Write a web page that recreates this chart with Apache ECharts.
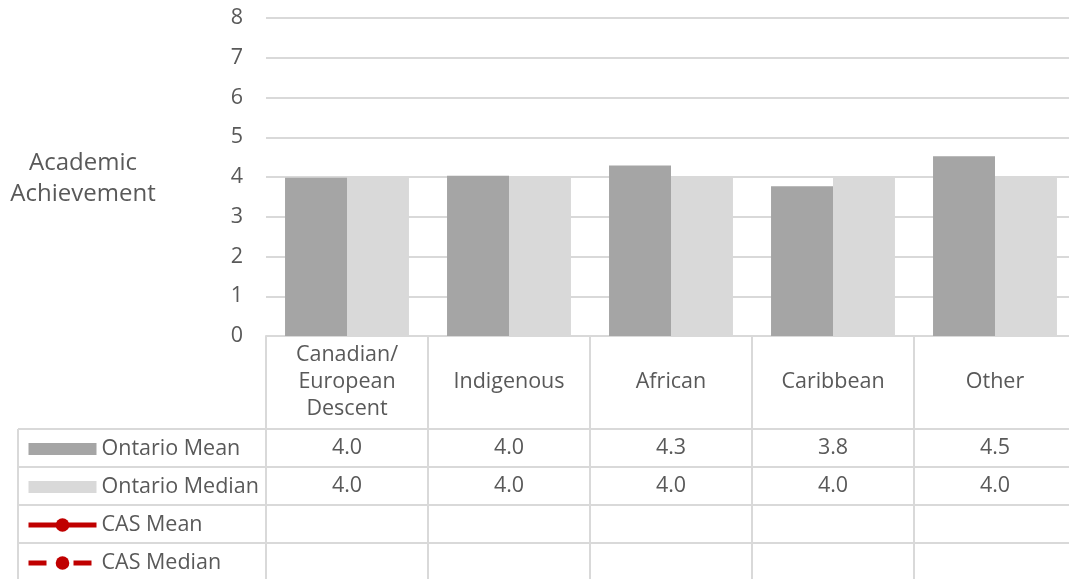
<!DOCTYPE html>
<html>
<head>
<meta charset="utf-8">
<script src="https://cdn.jsdelivr.net/npm/echarts@6/dist/echarts.min.js"></script>
<style>
  html, body { margin: 0; padding: 0; background: #fff; }
  #myEcharts { width: 1069px; height: 579px; }
</style>
</head>
<body>
<div id="myEcharts"></div>
<script>
// data
var categories = ['Canadian/\nEuropean\nDescent', 'Indigenous', 'African', 'Caribbean', 'Other'];
var ontarioMean = [3.98, 4.03, 4.29, 3.77, 4.52];
var ontarioMedian = [4.0, 4.0, 4.0, 4.0, 4.0];
var casMean = [null, null, null, null, null];
var casMedian = [null, null, null, null, null];
var yTicks = [0, 8, 1]; // min, max, interval

var textColor = '#595959';
var lineColor = '#d9d9d9';
var red = '#c00000';
var font = 'Open Sans';
var fs = 21.5;

var gridLeft = 266, gridTop = 18, gridW = 810, gridH = 318;
var bandW = gridW / categories.length;
var rowLines = [429, 467, 505, 543];

var myChart = echarts.init(document.getElementById('myEcharts'));

// table borders
var graphics = [];
rowLines.forEach(function (y) {
    graphics.push({ type: 'line', shape: { x1: 18, y1: y, x2: 1069, y2: y }, style: { stroke: lineColor, lineWidth: 2 } });
});
graphics.push({ type: 'line', shape: { x1: 18, y1: 429, x2: 18, y2: 579 }, style: { stroke: lineColor, lineWidth: 2 } });
for (var i = 0; i < categories.length; i++) {
    var x = gridLeft + i * bandW;
    graphics.push({ type: 'line', shape: { x1: x, y1: gridTop + gridH, x2: x, y2: 579 }, style: { stroke: lineColor, lineWidth: 2 } });
}
// y axis title
graphics.push({
    type: 'text', x: 83, y: 179,
    style: { text: 'Academic\nAchievement', fill: textColor, font: '24px "' + font + '"', lineHeight: 31, align: 'center', verticalAlign: 'middle' }
});

// bar icon with some padding so it is thinner than the line icons
var barIcon = 'path://M0,0 M0,17 M0,2.5 L68,2.5 L68,14.5 L0,14.5 Z';

function tableAxis(values, offset) {
    return {
        type: 'category',
        data: categories,
        position: 'bottom',
        offset: offset,
        axisLine: { show: false },
        axisTick: { show: false },
        axisLabel: {
            interval: 0,
            margin: 0,
            verticalAlign: 'middle',
            fontFamily: font,
            fontSize: fs,
            color: textColor,
            formatter: function (v, idx) { return values[idx] == null ? '' : values[idx].toFixed(1); }
        }
    };
}

var option = {
    animation: false,
    textStyle: { fontFamily: font },
    grid: { left: gridLeft, top: gridTop, width: gridW, height: gridH, containLabel: false, outerBoundsMode: 'none' },
    legend: {
        orient: 'vertical',
        left: 26,
        top: 430,
        height: 200,
        padding: 0,
        itemGap: 0,
        itemWidth: 68,
        itemHeight: 17,
        selectedMode: false,
        textStyle: { fontFamily: font, fontSize: fs, color: textColor, lineHeight: 38 },
        data: [
            { name: 'Ontario Mean', icon: barIcon },
            { name: 'Ontario Median', icon: barIcon },
            { name: 'CAS Mean', lineStyle: { width: 5, color: red } },
            { name: 'CAS Median', lineStyle: { width: 5, color: red, type: [18, 27] } }
        ]
    },
    xAxis: [
        {
            type: 'category',
            data: categories,
            axisLine: { lineStyle: { color: lineColor, width: 2 } },
            axisTick: { show: false },
            axisLabel: {
                interval: 0,
                margin: 46,
                verticalAlign: 'middle',
                lineHeight: 27,
                fontFamily: font,
                fontSize: fs,
                color: textColor
            }
        },
        tableAxis(ontarioMean, 112),
        tableAxis(ontarioMedian, 150)
    ],
    yAxis: {
        type: 'value',
        min: yTicks[0],
        max: yTicks[1],
        interval: yTicks[2],
        axisLine: { show: false },
        axisTick: { show: false },
        splitLine: { lineStyle: { color: lineColor, width: 2 } },
        axisLabel: { margin: 23, fontFamily: font, fontSize: fs, color: textColor }
    },
    series: [
        {
            name: 'Ontario Mean', type: 'bar', data: ontarioMean,
            barGap: 0, barCategoryGap: '23.5%',
            itemStyle: { color: '#a5a5a5' }
        },
        {
            name: 'Ontario Median', type: 'bar', data: ontarioMedian,
            itemStyle: { color: '#d9d9d9' }
        },
        {
            name: 'CAS Mean', type: 'line', data: casMean,
            symbol: 'circle', symbolSize: 14,
            itemStyle: { color: red },
            lineStyle: { color: red, width: 5 }
        },
        {
            name: 'CAS Median', type: 'line', data: casMedian,
            symbol: 'circle', symbolSize: 14,
            itemStyle: { color: red },
            lineStyle: { color: red, width: 5, type: [18, 27] }
        }
    ],
    graphic: graphics
};

myChart.setOption(option);
</script>
</body>
</html>
